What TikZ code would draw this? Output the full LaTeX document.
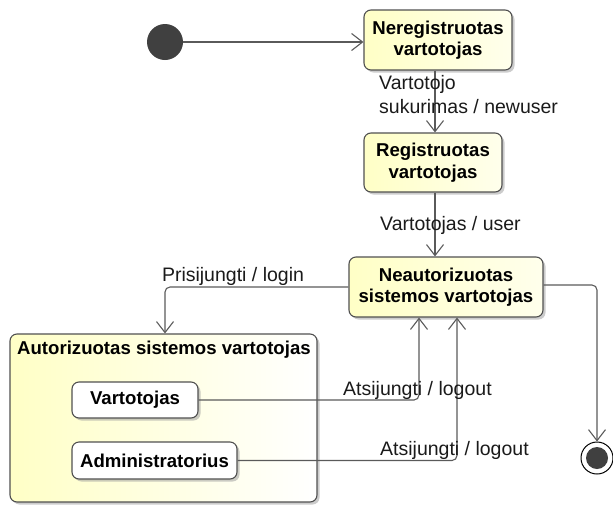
\documentclass[tikz,border=0pt]{standalone}
\usepackage{fontspec}
\setmainfont{Liberation Sans}
\usetikzlibrary{arrows.meta,shadows,calc}
\definecolor{boxline}{HTML}{505050}
\definecolor{wire}{HTML}{5A5A5A}
\definecolor{stateL}{HTML}{FFFFC6}
\definecolor{stateR}{HTML}{FFFFEC}
\definecolor{dot}{HTML}{404040}
\definecolor{labtext}{HTML}{1A1A1A}
\tikzset{
  statebox/.style={draw=boxline, line width=1.1pt, rounded corners=7pt,
    left color=stateL, right color=stateR,
    drop shadow={shadow xshift=2.5pt,shadow yshift=-2.5pt,fill=black!40,opacity=.5},
    font=\fontsize{18.6}{21.5}\selectfont\bfseries, align=center, inner sep=0pt},
  innerbox/.style={statebox, left color=white, right color=white},
  wirestyle/.style={draw=wire, line width=1.1pt, rounded corners=5pt,
    -{Straight Barb[length=11pt,width=17pt,line width=1.1pt]}},
  lab/.style={font=\fontsize{19.5}{24}\selectfont, text=labtext, inner sep=0pt, align=left}
}
\begin{document}
\begin{tikzpicture}[x=1pt,y=-1pt]
\useasboundingbox (0,0) rectangle (613,504);

% nodes
\node[circle, fill=dot, minimum size=36pt, inner sep=0pt] (init) at (165,42) {};
\node[statebox, minimum width=148pt, minimum height=60pt] (nereg) at (438,40) {Neregistruotas\\vartotojas};
\node[statebox, minimum width=138pt, minimum height=59pt] (reg) at (433,162.5) {Registruotas\\vartotojas};
\node[statebox, minimum width=194pt, minimum height=60pt] (neaut) at (446,287) {Neautorizuotas\\sistemos vartotojas};
\node[statebox, left color=stateL, right color=white, minimum width=307pt, minimum height=168pt] (auth) at (163.5,418) {};
\node[anchor=west, font=\fontsize{18.6}{21.5}\selectfont\bfseries, inner sep=0pt] (authtitle) at (17,350) {Autorizuotas sistemos vartotojas};
\node[innerbox, minimum width=126pt, minimum height=36pt] (vart) at (135,400) {Vartotojas};
\node[innerbox, minimum width=165pt, minimum height=37pt] (admin) at (154.5,460.5) {Administratorius};
\node[circle, draw=black, line width=1pt, fill=white, minimum size=32pt, inner sep=0pt] (final) at (597,458) {};
\node[circle, fill=dot, minimum size=22pt, inner sep=0pt] at (final) {};

% column coordinates
\coordinate (colA) at (435,0);
\coordinate (colL) at (165,0);
\coordinate (colV) at (419,0);
\coordinate (colW) at (457,0);

% connectors
\draw[wirestyle] (init.east) -- (init.east -| nereg.west);
\draw[wirestyle] (nereg.south -| colA) -- (reg.north -| colA);
\draw[wirestyle] (reg.south -| colA) -- (neaut.north -| colA);
\draw[wirestyle] (neaut.west) -| (auth.north -| colL);
\draw[wirestyle] (vart.east) -| (neaut.south -| colV);
\draw[wirestyle] (admin.east) -| (neaut.south -| colW);
\draw[wirestyle] ([yshift=2pt]neaut.east) -| (final.north);

% labels
\node[lab, anchor=west] (l1) at (379,95) {Vartotojo\\sukurimas / newuser};
\node[lab, anchor=west] (l2) at (380,225) {Vartotojas / user};
\node[lab, anchor=center] (l3) at (233,276) {Prisijungti / login};
\node[lab, anchor=west] (l4) at (343,390) {Atsijungti / logout};
\node[lab, anchor=west] (l5) at (380,450) {Atsijungti / logout};
\end{tikzpicture}
\end{document}
